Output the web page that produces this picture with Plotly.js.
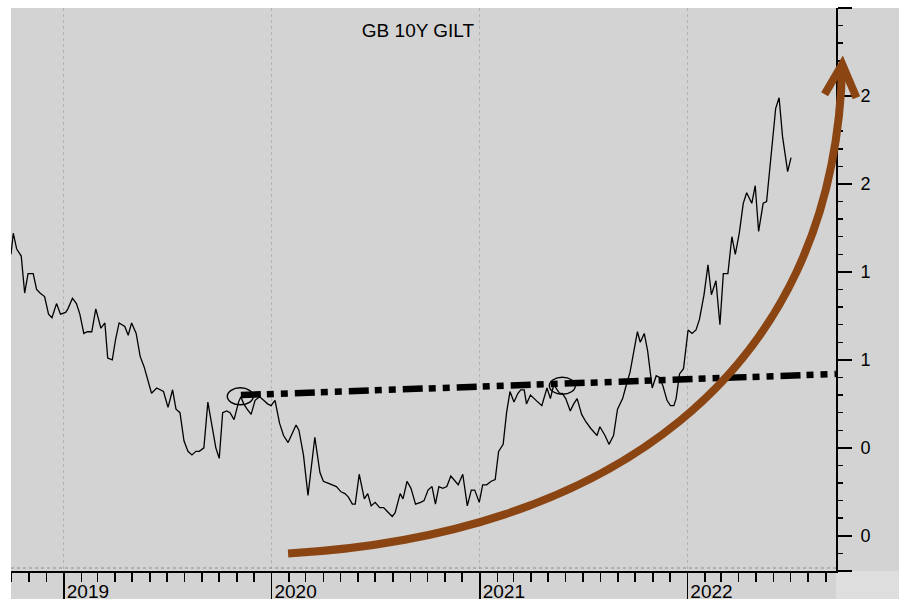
<!DOCTYPE html>
<html>
<head>
<meta charset="utf-8">
<script src="https://cdn.plot.ly/plotly-3.0.1.min.js"></script>
<style>
    html, body { margin: 0; padding: 0; background: #ffffff; }
    #chart { width: 899px; height: 599px; }
</style>
</head>
<body>
<div id="chart"></div>
<script>
// Weekly GB 10Y gilt yield (%)
const weekDates = [
    '2018-09-30','2018-10-04','2018-10-10','2018-10-18','2018-10-24','2018-10-30','2018-11-08','2018-11-14',
    '2018-11-20','2018-11-28','2018-12-05','2018-12-11','2018-12-19','2018-12-26','2019-01-04','2019-01-08',
    '2019-01-16','2019-01-23','2019-01-29','2019-02-05','2019-02-11','2019-02-19','2019-02-26','2019-03-07',
    '2019-03-14','2019-03-19','2019-03-27','2019-04-02','2019-04-08','2019-04-18','2019-04-24','2019-04-30',
    '2019-05-08','2019-05-15','2019-05-22','2019-05-29','2019-06-04','2019-06-13','2019-06-25','2019-07-03',
    '2019-07-11','2019-07-17','2019-07-24','2019-07-31','2019-08-07','2019-08-14','2019-08-21','2019-08-27',
    '2019-09-04','2019-09-11','2019-09-18','2019-09-25','2019-10-01','2019-10-07','2019-10-14','2019-10-20',
    '2019-10-27','2019-11-04','2019-11-08','2019-11-13','2019-11-19','2019-11-26','2019-12-03','2019-12-11',
    '2019-12-18','2019-12-25','2019-12-31','2020-01-07','2020-01-15','2020-01-22','2020-01-30','2020-02-06',
    '2020-02-13','2020-02-18','2020-02-26','2020-03-05','2020-03-17','2020-03-26','2020-04-01','2020-04-09',
    '2020-04-18','2020-04-24','2020-05-02','2020-05-09','2020-05-15','2020-05-22','2020-05-27','2020-06-03',
    '2020-06-12','2020-06-18','2020-06-24','2020-07-01','2020-07-09','2020-07-16','2020-07-22','2020-07-31',
    '2020-08-05','2020-08-14','2020-08-19','2020-08-26','2020-09-02','2020-09-10','2020-09-19','2020-09-25',
    '2020-10-02','2020-10-09','2020-10-15','2020-10-21','2020-10-28','2020-11-04','2020-11-11','2020-11-18',
    '2020-11-24','2020-12-02','2020-12-10','2020-12-17','2020-12-23','2020-12-31','2021-01-06','2021-01-13',
    '2021-01-21','2021-01-28','2021-02-03','2021-02-11','2021-02-17','2021-02-23','2021-03-02','2021-03-09',
    '2021-03-14','2021-03-20','2021-03-24','2021-03-31','2021-04-06','2021-04-13','2021-04-20','2021-04-29',
    '2021-05-05','2021-05-11','2021-05-21','2021-05-26','2021-06-01','2021-06-09','2021-06-15','2021-06-21',
    '2021-06-29','2021-07-06','2021-07-15','2021-07-26','2021-07-31','2021-08-09','2021-08-16','2021-08-24',
    '2021-08-31','2021-09-09','2021-09-14','2021-09-22','2021-10-05','2021-10-10','2021-10-17','2021-10-23',
    '2021-10-31','2021-11-07','2021-11-13','2021-11-19','2021-11-26','2021-12-02','2021-12-08','2021-12-12',
    '2021-12-18','2021-12-25','2022-01-02','2022-01-09','2022-01-16','2022-01-22','2022-01-30','2022-02-06',
    '2022-02-12','2022-02-20','2022-02-27','2022-03-05','2022-03-13','2022-03-20','2022-03-26','2022-04-02',
    '2022-04-09','2022-04-15','2022-04-24','2022-04-30','2022-05-06','2022-05-14','2022-05-20','2022-05-29',
    '2022-06-05','2022-06-11','2022-06-17','2022-06-26','2022-07-02'
];
const giltYield = [
    1.60,1.72,1.63,1.59,1.38,1.49,1.49,1.40,
    1.38,1.36,1.26,1.24,1.32,1.26,1.27,1.29,
    1.35,1.32,1.26,1.15,1.16,1.16,1.29,1.18,
    1.21,1.01,1.00,1.12,1.21,1.19,1.14,1.21,
    1.15,1.02,0.96,0.87,0.81,0.84,0.82,0.73,
    0.83,0.72,0.70,0.54,0.48,0.46,0.48,0.48,
    0.50,0.76,0.62,0.50,0.44,0.70,0.71,0.70,
    0.66,0.76,0.79,0.75,0.72,0.69,0.77,0.79,
    0.77,0.75,0.74,0.77,0.64,0.57,0.53,0.58,
    0.63,0.60,0.46,0.23,0.56,0.36,0.31,0.30,
    0.29,0.28,0.25,0.24,0.22,0.18,0.18,0.35,
    0.21,0.24,0.17,0.19,0.16,0.16,0.14,0.11,
    0.13,0.24,0.21,0.31,0.27,0.18,0.19,0.20,
    0.26,0.28,0.18,0.28,0.27,0.28,0.34,0.31,
    0.29,0.35,0.17,0.26,0.26,0.19,0.29,0.29,
    0.31,0.32,0.48,0.52,0.70,0.82,0.76,0.81,
    0.83,0.83,0.75,0.80,0.78,0.76,0.74,0.84,
    0.78,0.86,0.81,0.81,0.78,0.71,0.75,0.78,
    0.69,0.65,0.61,0.57,0.62,0.57,0.52,0.57,
    0.72,0.78,0.84,0.93,1.16,1.10,1.15,1.05,
    0.84,0.91,0.90,0.85,0.77,0.74,0.74,0.78,
    0.92,0.95,1.17,1.15,1.17,1.23,1.37,1.54,
    1.37,1.45,1.20,1.49,1.49,1.70,1.60,1.72,
    1.89,1.95,1.89,1.99,1.73,1.89,1.90,2.21,
    2.43,2.49,2.27,2.07,2.15
];

// Right axis ticks (labels are cut to one character in the original)
const yTickVals = [-0.2, 0, 0.5, 1, 1.5, 2, 2.5, 3];
const yTickText = ['', '0', '0', '1', '1', '2', '2', ''];

// Drawn annotations
const trendDates = ['2019-11-08', '2022-09-19'];
const trendVals = [0.80, 0.92];
const circleDates = ['2019-11-07', '2021-05-26'];
const circleVals = [0.79, 0.85];
// arrow = one cubic bezier: start, two control points, tip
const arrowDates = ['2020-01-30', '2021-08-02', '2022-09-17', '2022-09-30'];
const arrowVals = [-0.10, 0.00, 0.88, 2.68];
const headDates = ['2022-08-30', '2022-09-30', '2022-10-25'];
const headVals = [2.51, 2.68, 2.49];

const xRange = ['2018-09-30', '2022-09-19'];
const yRange = [-0.2, 3.0];
const fontFamily = 'Liberation Sans, Arial, sans-serif';
const brown = '#8B4513';

// map a date / value to paper coordinates (for the arrow that runs past the axis)
function paperX(d) {
    const a = Date.parse(xRange[0]), b = Date.parse(xRange[1]);
    return (Date.parse(d) - a) / (b - a);
}
function paperY(v) {
    return (v - yRange[0]) / (yRange[1] - yRange[0]);
}
function pt(d, v) {
    return paperX(d) + ',' + paperY(v);
}

function arrowPath() {
    return 'M ' + pt(arrowDates[0], arrowVals[0]) +
        ' C ' + pt(arrowDates[1], arrowVals[1]) + ' ' + pt(arrowDates[2], arrowVals[2]) + ' ' + pt(arrowDates[3], arrowVals[3]);
}

function headPath() {
    return headDates.map((d, i) => (i === 0 ? 'M ' : ' L ') + pt(d, headVals[i])).join('');
}

const giltTrace = {
    x: weekDates,
    y: giltYield,
    type: 'scatter',
    mode: 'lines',
    line: { color: '#000000', width: 1.3 },
    hoverinfo: 'skip'
};

// background strips outside the plot area
const bg = '#d3d3d3';
const rightW = 63 / 825, bottomH = 28 / 563;
const shapes = [
    { type: 'rect', xref: 'paper', yref: 'paper', x0: 1, x1: 1 + rightW, y0: 0, y1: 1,
      fillcolor: bg, line: { width: 0 }, layer: 'below' },
    { type: 'rect', xref: 'paper', yref: 'paper', x0: 0, x1: 1, y0: -bottomH, y1: 0,
      fillcolor: bg, line: { width: 0 }, layer: 'below' },
    { type: 'rect', xref: 'paper', yref: 'paper', x0: 1, x1: 1 + rightW, y0: -bottomH, y1: 0,
      fillcolor: '#dedede', line: { width: 0 }, layer: 'below' },
    // dotted rule just above the time axis
    { type: 'line', xref: 'paper', yref: 'paper', x0: 0, x1: 1, y0: 3 / 563, y1: 3 / 563,
      line: { color: '#8c8c8c', width: 1, dash: 'dot' } },
    // dash-dot neckline
    { type: 'line', xref: 'x', yref: 'y', x0: trendDates[0], x1: trendDates[1], y0: trendVals[0], y1: trendVals[1],
      line: { color: '#000000', width: 6.5, dash: '20px,6px,7px,7px,7px,7px' } },
    // brown arrow
    { type: 'path', xref: 'paper', yref: 'paper', path: arrowPath(),
      line: { color: brown, width: 8 } },
    { type: 'path', xref: 'paper', yref: 'paper', path: headPath(),
      line: { color: brown, width: 8 } }
];
circleDates.forEach((d, i) => {
    shapes.push({
        type: 'circle', xref: 'x', yref: 'y',
        xsizemode: 'pixel', ysizemode: 'pixel',
        xanchor: d, yanchor: circleVals[i],
        x0: -13, x1: 13, y0: -8, y1: 9,
        line: { color: '#000000', width: 1.4 }
    });
});

const layout = {
    width: 899,
    height: 599,
    margin: { l: 11, r: 63, t: 8, b: 28 },
    paper_bgcolor: '#ffffff',
    plot_bgcolor: bg,
    showlegend: false,
    font: { family: fontFamily, size: 18, color: '#000000' },
    title: {
        text: 'GB 10Y GILT',
        font: { family: fontFamily, size: 19, color: '#000000' },
        x: 418 / 899, xanchor: 'center',
        y: 1 - 30 / 599, yanchor: 'middle'
    },
    xaxis: {
        type: 'date',
        range: xRange,
        tickmode: 'linear',
        tick0: '2019-01-01',
        dtick: 'M12',
        tickformat: '%Y',
        ticks: 'outside',
        ticklen: 28,
        tickwidth: 1.5,
        tickcolor: '#000000',
        ticklabelshift: 24,
        ticklabelstandoff: -26,
        tickfont: { size: 19, color: '#000000' },
        showline: true,
        linewidth: 2,
        linecolor: '#000000',
        showgrid: true,
        gridcolor: '#b3b3b3',
        griddash: 'dot',
        gridwidth: 1,
        zeroline: false,
        minor: {
            tickmode: 'linear',
            tick0: '2019-01-01',
            dtick: 'M1',
            ticks: 'outside',
            ticklen: 9,
            tickwidth: 1.5,
            tickcolor: '#000000',
            showgrid: false
        },
        fixedrange: true
    },
    yaxis: {
        side: 'right',
        range: yRange,
        tickmode: 'array',
        tickvals: yTickVals,
        ticktext: yTickText,
        ticks: 'outside',
        ticklen: 14,
        tickwidth: 1.5,
        tickcolor: '#000000',
        ticklabelstandoff: 5,
        tickfont: { size: 18, color: '#000000' },
        showline: true,
        linewidth: 2,
        linecolor: '#000000',
        showgrid: false,
        zeroline: false,
        minor: {
            tickmode: 'linear',
            tick0: 0,
            dtick: 0.1,
            ticks: 'outside',
            ticklen: 5,
            tickwidth: 1.5,
            tickcolor: '#000000',
            showgrid: false
        },
        fixedrange: true
    },
    shapes: shapes
};

Plotly.newPlot('chart', [giltTrace], layout, { displayModeBar: false, staticPlot: true });
</script>
</body>
</html>
